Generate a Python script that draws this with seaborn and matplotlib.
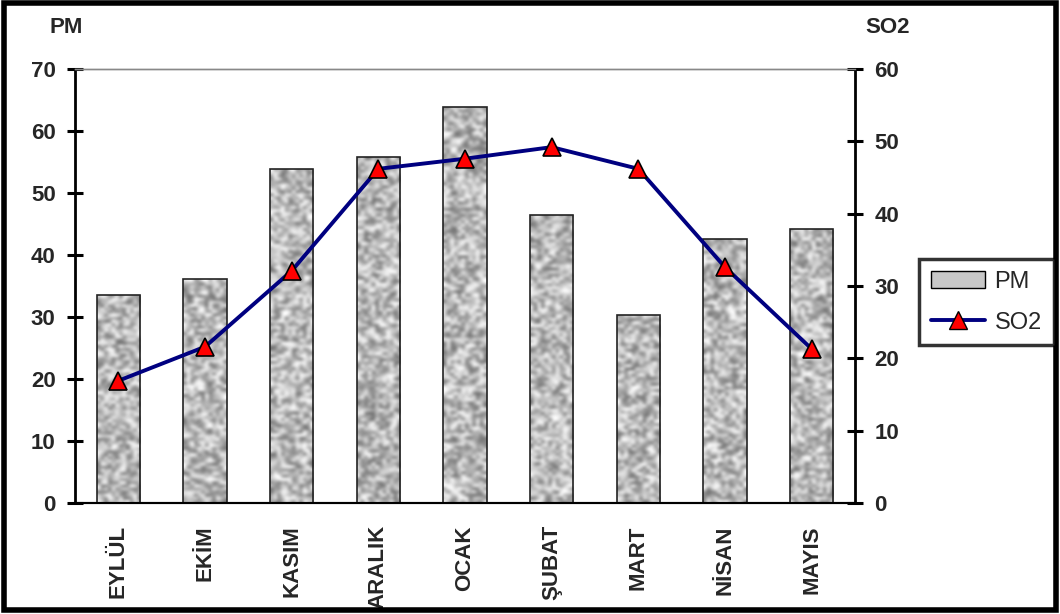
import numpy as np
import pandas as pd
import matplotlib
matplotlib.use("Agg")
import matplotlib.pyplot as plt
import seaborn as sns
from matplotlib.patches import Rectangle, Patch
from matplotlib.lines import Line2D

# values
months = ["EYLÜL", "EKİM", "KASIM", "ARALIK", "OCAK", "ŞUBAT", "MART", "NİSAN", "MAYIS"]
pm = [33.5, 36.1, 53.9, 55.8, 63.9, 46.5, 30.3, 42.6, 44.2]
so2 = [16.9, 21.6, 32.1, 46.2, 47.6, 49.2, 46.2, 32.6, 21.3]
pm_ticks = list(range(0, 71, 10))
so2_ticks = list(range(0, 61, 10))

sns.set_style("white")
plt.rcParams["font.family"] = ["Liberation Sans", "DejaVu Sans"]

df = pd.DataFrame({"month": months, "PM": pm, "SO2": so2})

fig = plt.figure(figsize=(10.6, 6.14), dpi=100)
ax = fig.add_axes([0.0708, 0.1808, 0.7358, 0.7068])
ax2 = ax.twinx()

sns.barplot(data=df, x="month", y="PM", order=months, width=0.5,
            color="#c8c8c8", edgecolor="#222222", linewidth=1.2, ax=ax)

# granite-like texture inside each bar
rng = np.random.default_rng(7)
for bar in ax.patches:
    x0, y0 = bar.get_x(), bar.get_y()
    w, h = bar.get_width(), bar.get_height()
    tex = rng.random((int(h * 1.9) + 4, 12))
    im = ax.imshow(tex, cmap="gray", vmin=-0.7, vmax=0.95, interpolation="bicubic",
                   extent=(x0, x0 + w, y0, y0 + h), aspect="auto", zorder=2)
    im.set_clip_path(bar)
    bar.set_facecolor("none")
    bar.set_zorder(3)

sns.lineplot(x=np.arange(len(months)), y=so2, ax=ax2, color="#000080", linewidth=2.8,
             marker="^", markersize=13, markerfacecolor="red", markeredgecolor="black",
             markeredgewidth=1.2, zorder=5)

ax.set_xlim(-0.5, len(months) - 0.5)
ax.set_ylim(0, 70)
ax2.set_ylim(0, 60)
ax.set_yticks(pm_ticks)
ax2.set_yticks(so2_ticks)
ax.set_xlabel("")
ax.set_ylabel("")
ax2.set_ylabel("")

ax.set_xticks(range(len(months)))
ax.set_xticklabels(months, rotation=90)
ax.set_xticks(np.arange(-0.5, len(months), 1), minor=True)
ax.tick_params(axis="x", which="major", length=0, pad=16, labelsize=16)
ax.tick_params(axis="x", which="minor", length=10, width=1.2, direction="out", color="black")
ax.tick_params(axis="y", length=12, width=2.2, direction="inout", labelsize=16, color="black", pad=8)
ax2.tick_params(axis="y", length=12, width=2.2, direction="inout", labelsize=16, color="black", pad=8)
for lab in ax.get_xticklabels() + ax.get_yticklabels() + ax2.get_yticklabels():
    lab.set_fontweight("bold")

for a in (ax, ax2):
    a.spines["left"].set_linewidth(2)
    a.spines["right"].set_linewidth(2)
    a.spines["bottom"].set_linewidth(1.5)
    a.spines["top"].set_color("#888888")
    a.spines["top"].set_linewidth(1)
    for s in ("left", "right", "bottom"):
        a.spines[s].set_color("black")
ax2.spines["left"].set_visible(False)
ax.spines["right"].set_visible(False)
ax2.set_zorder(ax.get_zorder() + 1)
ax2.patch.set_visible(False)

fig.text(0.062, 0.955, "PM", fontsize=16, fontweight="bold", ha="center", va="center")
fig.text(0.837, 0.955, "SO2", fontsize=16, fontweight="bold", ha="center", va="center")

handles = [Patch(facecolor="#c8c8c8", edgecolor="black", linewidth=1),
           Line2D([], [], color="#000080", linewidth=2.8, marker="^", markersize=13,
                  markerfacecolor="red", markeredgecolor="black")]
leg = fig.legend(handles, ["PM", "SO2"], loc="center left", bbox_to_anchor=(0.867, 0.508),
                 fontsize=17, frameon=True, fancybox=False, edgecolor="black",
                 handlelength=2.3, labelspacing=0.8, borderpad=0.5, handletextpad=0.4,
                 borderaxespad=0)
leg.get_frame().set_linewidth(2.5)

fig.patches.append(Rectangle((0.004, 0.006), 0.992, 0.989, transform=fig.transFigure,
                             fill=False, edgecolor="black", linewidth=4))

fig.savefig("out.png", dpi=100)
